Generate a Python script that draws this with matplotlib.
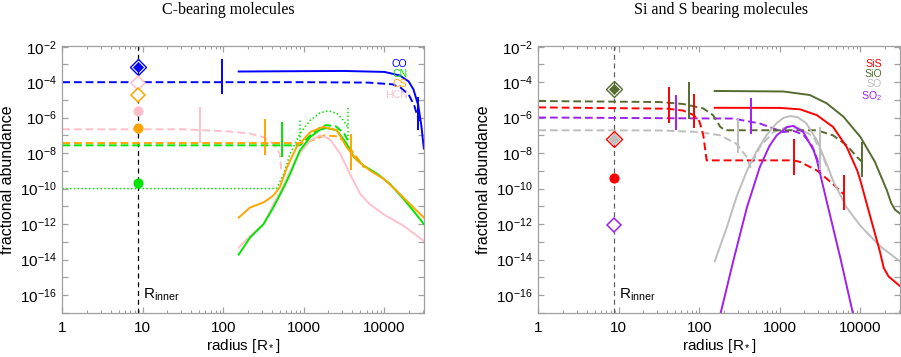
import numpy as np
import matplotlib
matplotlib.use('Agg')
import matplotlib.pyplot as plt
from matplotlib.ticker import FixedLocator, FixedFormatter, NullFormatter, LogLocator

plt.rcParams['font.family'] = ['Liberation Sans', 'DejaVu Sans']
plt.rcParams['mathtext.fontset'] = 'custom'
plt.rcParams['mathtext.rm'] = 'Liberation Sans'
plt.rcParams['mathtext.it'] = 'Liberation Sans:italic'
plt.rcParams['mathtext.bf'] = 'Liberation Sans:bold'

# ---------------- data ----------------
R_INNER = 8.8
x_ticks = [1, 10, 100, 1000, 10000]
x_ticklabels = ['1', '10', '100', '1000', '10000']
y_exps = list(range(-17, -1))
y_ticks = [10.0 ** e for e in y_exps]
y_ticklabels = ['$10^{%d}$' % e if e % 2 == 0 else '' for e in y_exps]

# colours
c_co, c_cn, c_cs, c_hcn = '#0000ff', '#00e600', '#ffa500', '#ffc0cb'
c_sis, c_sio, c_so, c_so2 = '#ff0000', '#556b2f', '#bebebe', '#a020f0'

# ---- C-bearing molecules ----
co_x = [155, 1000, 3160, 10000, 15500, 20000, 22900, 26300, 28800, 30900]
co_y = [4.0e-4, 4.2e-4, 4.3e-4, 3.8e-4, 2.4e-4, 1.1e-4, 4.0e-5, 5.0e-6, 3.2e-7, 1.8e-8]
co_in_x = [1, 1000, 6300, 12600, 15800, 20000, 23400, 26900]
co_in_y = [1.0e-4, 1.0e-4, 9.5e-5, 7.6e-5, 5.0e-5, 2.0e-5, 5.0e-6, 6.3e-7]
co_bar_x = [96, 26300]
co_bar_lo = [2.2e-5, 1.9e-7]
co_bar_hi = [2.0e-3, 1.5e-5]

hcn_x = [155, 214, 316, 417, 537, 617, 813, 1200, 1585, 2090, 2820, 3720, 5010,
         6610, 9770, 17400, 30900]
hcn_y = [4.6e-14, 2.1e-13, 1.0e-12, 1.3e-11, 1.0e-10, 4.0e-10, 5.9e-9, 5.2e-8,
         1.0e-7, 6.3e-8, 9.3e-9, 6.8e-10, 4.9e-11, 1.3e-11, 3.5e-12, 7.9e-13, 1.1e-13]
hcn_in_x = [1, 32, 120, 214, 316, 417, 501, 525]
hcn_in_y = [2.2e-7, 2.2e-7, 1.66e-7, 1.26e-7, 7.9e-8, 3.4e-8, 9.3e-9, 1.0e-9]
hcn_bar_x = [52]
hcn_bar_lo = [3.7e-8]
hcn_bar_hi = [3.8e-6]

cn_x = [155, 214, 316, 417, 562, 676, 891, 1202, 1585, 1905, 2570, 3388, 4169,
        5495, 8128, 11750, 17380, 22900, 30900]
cn_y = [1.9e-14, 1.7e-13, 1.0e-12, 8.5e-12, 1.17e-10, 6.8e-10, 1.4e-8, 8.1e-8,
        2.1e-7, 2.6e-7, 1.95e-7, 3.4e-8, 5.9e-9, 2.0e-9, 6.8e-10, 1.8e-10, 2.5e-11,
        5.5e-12, 1.0e-12]
cn_in_x = [1, 891, 1202, 1585, 1905, 2512, 3162, 3631]
cn_in_y = [2.75e-8, 2.75e-8, 1.0e-7, 2.8e-7, 3.8e-7, 3.2e-7, 1.26e-7, 4.0e-8]
cn_alt_x = [1, 457, 562, 676, 891, 1202, 1585, 1995, 2570, 3090, 3548]
cn_alt_y = [1e-10, 1e-10, 6.8e-10, 9.3e-9, 1.26e-7, 7.2e-7, 1.86e-6, 2.45e-6,
            1.74e-6, 7.2e-7, 2.5e-7]
cn_bar_x = [537]
cn_bar_lo = [5.9e-9]
cn_bar_hi = [5.75e-7]
cn_alt_bar_x = [891, 3548]
cn_alt_bar_lo = [2.75e-8, 5.2e-8]
cn_alt_bar_hi = [8.9e-7, 3.3e-6]

cs_x = [155, 214, 316, 417, 501, 617, 813, 1202, 1738, 2570, 3388, 4571, 6607,
        9772, 14130, 20890, 30900]
cs_y = [2.3e-12, 8.5e-12, 1.66e-11, 4.0e-11, 1.17e-10, 1.58e-9, 2.2e-8, 1.55e-7,
        3.0e-7, 1.95e-7, 2.2e-8, 3.9e-9, 1.05e-9, 3.5e-10, 7.6e-11, 1.3e-11, 2.3e-12]
cs_in_x = [1, 1000, 1413, 1778, 2512, 3162, 3981, 5012, 5600]
cs_in_y = [3.7e-8, 3.7e-8, 6.3e-8, 1.0e-7, 8.9e-8, 5.0e-8, 1.26e-8, 3.2e-9, 1.5e-9]
cs_bar_x = [331, 3800]
cs_bar_lo = [7.4e-9, 1.05e-9]
cs_bar_hi = [7.9e-7, 1.26e-7]

# inner-radius values (C-bearing)
co_pt_fill = 6.8e-4
hcn_pt_open, hcn_pt_fill = 9.5e-5, 2.3e-6
cs_pt_open, cs_pt_fill = 1.9e-5, 2.6e-7
cn_pt_fill = 2.2e-10

# ---- Si and S bearing molecules ----
sis_x = [155, 1000, 1778, 2884, 4571, 6761, 9120, 10000, 12020, 14450, 17380,
         19500, 22390, 30900]
sis_y = [3.6e-6, 3.55e-6, 2.95e-6, 1.38e-6, 3.0e-7, 2.2e-8, 1.05e-9, 2.8e-10,
         1.3e-11, 6.3e-13, 3.0e-14, 3.3e-15, 1.1e-15, 3.2e-16]
sis_in_x = [1, 40, 63, 85, 100, 112, 123, 1479, 1778, 2884, 4571, 6166]
sis_in_y = [3.8e-6, 3.2e-6, 2.5e-6, 1.4e-6, 6.3e-7, 1.0e-7, 3.9e-9, 3.9e-9, 3.2e-9,
            1.05e-9, 1.8e-10, 4.9e-11]
sis_bar_x = [42, 87, 1480, 6300]
sis_bar_lo = [5.1e-7, 2.45e-7, 6.2e-10, 6.0e-12]
sis_bar_hi = [5.1e-5, 2.3e-5, 6.0e-8, 6.2e-10]

sio_x = [155, 1096, 2344, 3802, 6166, 10000, 15140, 21380, 23990, 26920, 30900]
sio_y = [3.2e-5, 3.0e-5, 1.9e-5, 6.5e-6, 1.12e-6, 8.1e-8, 3.2e-9, 7.6e-11, 1.6e-11,
         6.3e-12, 4.0e-12]
sio_in_x = [1, 32, 63, 112, 148, 182, 209, 2884, 4571, 6761, 9120, 10470]
sio_in_y = [8.7e-6, 7.6e-6, 5.9e-6, 3.3e-6, 1.38e-6, 3.0e-7, 1.95e-7, 1.95e-7,
            1.0e-7, 2.75e-8, 5.9e-9, 3.2e-9]
sio_bar_x = [75, 10500]
sio_bar_lo = [8.9e-7, 4.4e-10]
sio_bar_hi = [1.0e-4, 4.2e-8]

so_x = [155, 219, 288, 389, 513, 692, 912, 1122, 1349, 1660, 2138, 2884, 3802,
        4571, 6761, 10000, 17380, 30900]
so_y = [7.9e-15, 6.3e-13, 3.2e-11, 1.0e-9, 1.26e-8, 1.12e-7, 5.0e-7, 1.0e-6,
        1.23e-6, 1.07e-6, 4.7e-7, 5.2e-8, 2.5e-9, 2.8e-10, 8.5e-12, 7.9e-13,
        5.8e-14, 7.9e-15]
so_in_x = [1, 32, 102, 182, 288, 389, 427, 562, 832, 1230, 1778, 2630, 3467, 3981]
so_in_y = [1.95e-7, 1.9e-7, 1.55e-7, 1.0e-7, 3.4e-8, 5.9e-9, 1.6e-9, 2.2e-8,
           1.55e-7, 3.0e-7, 2.45e-7, 8.1e-8, 5.9e-9, 1.05e-9]
so_bar_x = [300, 3160]
so_bar_lo = [1.0e-8, 1.05e-9]
so_bar_hi = [8.9e-7, 3.0e-7]

so2_x = [182, 263, 389, 562, 741, 912, 1230, 1479, 1950, 2630, 2884, 3802, 5623, 8128]
so2_y = [7.9e-18, 7.9e-15, 8.5e-12, 1.6e-9, 2.5e-8, 1.0e-7, 3.0e-7, 3.4e-7,
         1.55e-7, 1.4e-8, 3.9e-9, 2.0e-11, 1.26e-14, 7.9e-18]
so2_in_x = [1, 263, 562, 832, 1096, 1479, 1950, 2512, 2884, 3162]
so2_in_y = [1.02e-6, 8.9e-7, 4.7e-7, 2.45e-7, 1.55e-7, 1.78e-7, 1.12e-7, 2.5e-8,
            5.0e-9, 1.0e-9]
so2_bar_x = [51, 437]
so2_bar_lo = [2.1e-7, 1.26e-7]
so2_bar_hi = [1.9e-5, 1.23e-5]

sio_pt_fill = 4.0e-5
so_pt_fill = 6.6e-8
sis_pt_open, sis_pt_fill = 6.6e-8, 3.8e-10
so2_pt_open = 8.5e-13

# ---------------- figure ----------------
W, H = 901, 357
fig = plt.figure(figsize=(W / 100, H / 100), dpi=100)


def rect(x0, x1, y0, y1):
    return [x0 / W, 1 - y1 / H, (x1 - x0) / W, (y1 - y0) / H]


axL = fig.add_axes(rect(62.3, 424, 46, 312.7))
axR = fig.add_axes(rect(538.3, 900, 46, 312.7))

SPINE = '#a0a0a0'
LW = 1.4
DASH = (0, (4, 2))


def style(ax):
    ax.set_xscale('log')
    ax.set_yscale('log')
    ax.set_xlim(1, 3.1e4)
    ax.set_ylim(1e-17, 1.1e-2)
    for s in ax.spines.values():
        s.set_color(SPINE)
        s.set_linewidth(0.9)
    ax.yaxis.set_major_locator(FixedLocator(y_ticks))
    ax.yaxis.set_major_formatter(FixedFormatter(y_ticklabels))
    ax.yaxis.set_minor_locator(FixedLocator([]))
    ax.xaxis.set_major_locator(FixedLocator(x_ticks))
    ax.xaxis.set_major_formatter(FixedFormatter(x_ticklabels))
    ax.xaxis.set_minor_locator(LogLocator(base=10, subs=np.arange(2, 10)))
    ax.xaxis.set_minor_formatter(NullFormatter())
    ax.tick_params(which='both', direction='in', top=True, right=True,
                   color=SPINE, labelsize=11)
    ax.tick_params(which='major', length=4.5, width=0.9)
    ax.tick_params(which='minor', length=2.2, width=0.8)
    ax.tick_params(axis='x', pad=6)
    ax.tick_params(axis='y', pad=4)
    ax.set_xlabel('radius [R$_*$]', fontsize=11)
    ax.set_ylabel('fractional abundance', fontsize=11.5)
    ax.xaxis.set_label_coords(0.5, -0.092)
    ax.yaxis.set_label_coords(-0.13, 0.5)


def bars(ax, xs, lo, hi, color, ls='-', lw=LW):
    ax.vlines(xs, lo, hi, colors=color, linestyles=ls, linewidth=lw)


def marker(ax, y, color, kind, ms):
    if kind == 'fillD':
        ax.plot([R_INNER], [y], marker='D', ms=ms - 2.5, mfc=color, mec=color,
                mew=0.5, ls='none', zorder=6)
        ax.plot([R_INNER], [y], marker='D', ms=ms, mfc='none', mec=color,
                mew=1.0, ls='none', zorder=6)
    elif kind == 'openD':
        ax.plot([R_INNER], [y], marker='D', ms=ms, mfc='white', mec=color,
                mew=1.1, ls='none', zorder=6)
    else:
        ax.plot([R_INNER], [y], marker='o', ms=ms, mfc=color, mec=color,
                ls='none', zorder=6)


for ax in (axL, axR):
    style(ax)

# ---- left panel ----
ax = axL
ax.axvline(R_INNER, color='black', ls=(0, (4, 3)), lw=0.9, zorder=1)
ax.plot(cn_alt_x, cn_alt_y, color=c_cn, ls=(0, (1, 1.5)), lw=1.1)
bars(ax, cn_alt_bar_x, cn_alt_bar_lo, cn_alt_bar_hi, c_cn, ls=(0, (1, 1.5)), lw=1.1)
ax.plot(hcn_in_x, hcn_in_y, color=c_hcn, ls=DASH, lw=LW)
ax.plot(cn_in_x, cn_in_y, color=c_cn, ls=DASH, lw=LW)
ax.plot(cs_in_x, cs_in_y, color=c_cs, ls=DASH, lw=LW)
ax.plot(co_in_x, co_in_y, color=c_co, ls=DASH, lw=LW)
ax.plot(hcn_x, hcn_y, color=c_hcn, lw=LW)
ax.plot(cn_x, cn_y, color=c_cn, lw=LW)
ax.plot(cs_x, cs_y, color=c_cs, lw=LW)
ax.plot(co_x, co_y, color=c_co, lw=LW)
bars(ax, hcn_bar_x, hcn_bar_lo, hcn_bar_hi, c_hcn)
bars(ax, cn_bar_x, cn_bar_lo, cn_bar_hi, c_cn)
bars(ax, cs_bar_x, cs_bar_lo, cs_bar_hi, c_cs)
bars(ax, co_bar_x, co_bar_lo, co_bar_hi, c_co)
marker(ax, co_pt_fill, c_co, 'fillD', 8)
marker(ax, hcn_pt_open, c_hcn, 'openD', 7)
marker(ax, cs_pt_open, c_cs, 'openD', 7)
marker(ax, hcn_pt_fill, c_hcn, 'o', 6.3)
marker(ax, cs_pt_fill, c_cs, 'o', 6.3)
marker(ax, cn_pt_fill, c_cn, 'o', 6.3)

# ---- right panel ----
ax = axR
ax.axvline(R_INNER, color='#606060', ls=(0, (4, 3)), lw=0.9, zorder=1)
ax.plot(so_in_x, so_in_y, color=c_so, ls=DASH, lw=LW)
ax.plot(so2_in_x, so2_in_y, color=c_so2, ls=DASH, lw=LW)
ax.plot(sis_in_x, sis_in_y, color=c_sis, ls=DASH, lw=LW)
ax.plot(sio_in_x, sio_in_y, color=c_sio, ls=DASH, lw=LW)
ax.plot(so_x, so_y, color=c_so, lw=LW)
ax.plot(so2_x, so2_y, color=c_so2, lw=LW)
ax.plot(sis_x, sis_y, color=c_sis, lw=LW)
ax.plot(sio_x, sio_y, color=c_sio, lw=LW)
bars(ax, so_bar_x, so_bar_lo, so_bar_hi, c_so)
bars(ax, so2_bar_x, so2_bar_lo, so2_bar_hi, c_so2)
bars(ax, sis_bar_x, sis_bar_lo, sis_bar_hi, c_sis)
bars(ax, sio_bar_x, sio_bar_lo, sio_bar_hi, c_sio)
marker(ax, sio_pt_fill, c_sio, 'fillD', 8)
ax.plot([R_INNER], [so_pt_fill], marker='D', ms=5.5, mfc=c_so, mec=c_so,
        ls='none', zorder=6)
ax.plot([R_INNER], [sis_pt_open], marker='D', ms=8, mfc='none', mec=c_sis,
        mew=1.0, ls='none', zorder=6)
marker(ax, sis_pt_fill, c_sis, 'o', 6.3)
marker(ax, so2_pt_open, c_so2, 'openD', 7)

# R_inner labels
for ax in (axL, axR):
    ax.text(10.0, 6.3e-17, 'R$_{\\rm inner}$', fontsize=11, ha='left',
            va='baseline', color='black')

# legends (coloured text)
fs_leg = 7.6
for txt, col, yb in [('CO', c_co, 66.7), ('CN', c_cn, 76.9), ('CS', c_cs, 87.1),
                     ('HCN', c_hcn, 97.5)]:
    axL.text((407.5 - 62.3) / 361.7, (312.7 - yb) / 266.7, txt, color=col,
             fontsize=fs_leg, ha='right', va='baseline', transform=axL.transAxes)
for txt, col, yb in [('SiS', c_sis, 67.3), ('SiO', c_sio, 77.3), ('SO', c_so, 87.3),
                     ('SO$_2$', c_so2, 99.0)]:
    axR.text((882 - 538.3) / 361.7, (312.7 - yb) / 266.7, txt, color=col,
             fontsize=fs_leg, ha='right', va='baseline', transform=axR.transAxes)

# titles
fig.text(228 / W, 1 - 10 / H, 'C-bearing molecules', family='Liberation Serif',
         fontsize=11.5, ha='center', va='center')
fig.text(721 / W, 1 - 10 / H, 'Si and S bearing molecules', family='Liberation Serif',
         fontsize=11.5, ha='center', va='center')

fig.savefig('out.png', dpi=100)
